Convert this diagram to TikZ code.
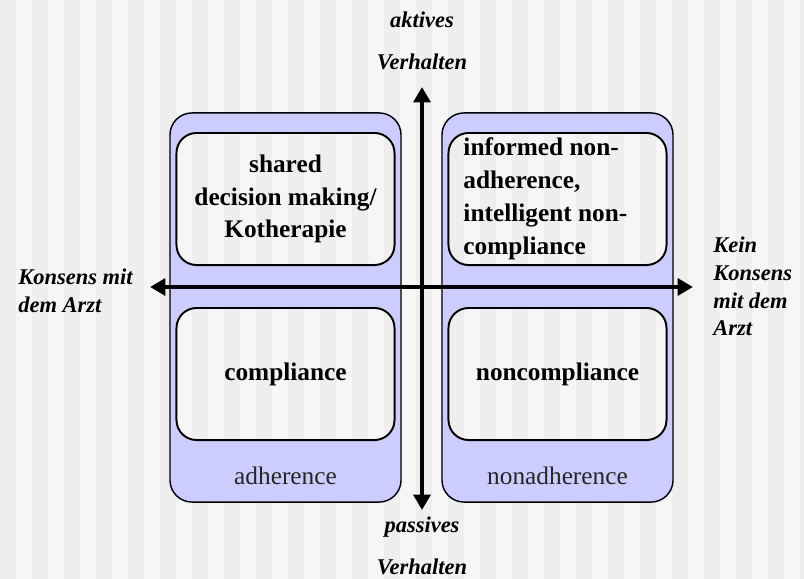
\documentclass[tikz,border=0pt]{standalone}
\usepackage{fontspec}
\setmainfont{Liberation Serif}
\usetikzlibrary{arrows.meta}
\pgfdeclarelayer{background}
\pgfsetlayers{background,main}
\definecolor{lavender}{HTML}{CCCCFF}
\definecolor{stripedark}{HTML}{EEEEEE}
\definecolor{stripelight}{HTML}{F6F6F6}

\begin{document}
\begin{tikzpicture}[x=0.025cm,y=-0.025cm]
	\tikzstyle{bigbox}=[draw=black,line width=1pt,rounded corners=0.55cm,minimum width=5.775cm,minimum height=9.725cm,inner sep=0pt]
	\tikzstyle{cell}=[draw=black,line width=1.4pt,rounded corners=0.5cm,minimum width=5.45cm,minimum height=3.3cm,font=\fontsize{18}{23.4}\selectfont\bfseries,align=center]
	\tikzstyle{grouplabel}=[font=\fontsize{18}{22}\selectfont,text=black!85]
	\tikzstyle{axislabel}=[font=\fontsize{16}{19.8}\selectfont\bfseries\itshape,inner sep=0pt]
	\tikzstyle{axisarrow}=[line width=2.8pt,{Triangle[length=11pt,width=12pt]}-{Triangle[length=11pt,width=12pt]}]
	\useasboundingbox (0,0) rectangle (804,579);
	% quadrants
	\node[bigbox] (adh) at (285.5,307.5) {};
	\node[bigbox] (nonadh) at (557.5,307.5) {};
	\node[cell] (sdm) at (285.5,199) {shared\\decision making/\\Kotherapie};
	\node[cell] (comp) at (285.5,374) {compliance};
	\node[cell,align=flush left,text width=4.7cm,inner xsep=0.375cm] (inf) at (557.5,199) {informed non-\\adherence,\\intelligent non-\\compliance};
	\node[cell] (noncomp) at (557.5,374) {noncompliance};
	\node[grouplabel] (adhlab) at (285.5,476) {adherence};
	\node[grouplabel] (nonadhlab) at (557.5,476) {nonadherence};
	% axes
	\coordinate (top) at (422,87);
	\coordinate (bottom) at (422,510);
	\coordinate (left) at (150,287);
	\coordinate (right) at (693,287);
	\draw[axisarrow] (bottom) -- (top);
	\draw[axisarrow] (left) -- (right);
	\node[axislabel,align=center,font=\fontsize{16}{30}\selectfont\bfseries\itshape] (akt) at (422,41) {aktives\\Verhalten};
	\node[axislabel,align=center,font=\fontsize{16}{30}\selectfont\bfseries\itshape] (pas) at (422,546) {passives\\Verhalten};
	\node[axislabel,align=left,anchor=west] (kons) at (18,291) {Konsens mit\\dem Arzt};
	\node[axislabel,align=left,anchor=west] (nokons) at (713,286.5) {Kein\\Konsens\\mit dem\\Arzt};
	% background
	\begin{pgfonlayer}{background}
		\fill[stripedark] (0,0) rectangle (804,579);
		\foreach \i in {0,...,24}
			\fill[stripelight] ({32*\i+16},0) rectangle ({32*\i+32},579);
		\fill[lavender,even odd rule,rounded corners=0.55cm]
			(adh.south west) rectangle (adh.north east)
			(nonadh.south west) rectangle (nonadh.north east)
			[rounded corners=0.5cm]
			(sdm.south west) rectangle (sdm.north east)
			(comp.south west) rectangle (comp.north east)
			(inf.south west) rectangle (inf.north east)
			(noncomp.south west) rectangle (noncomp.north east);
	\end{pgfonlayer}
\end{tikzpicture}
\end{document}
